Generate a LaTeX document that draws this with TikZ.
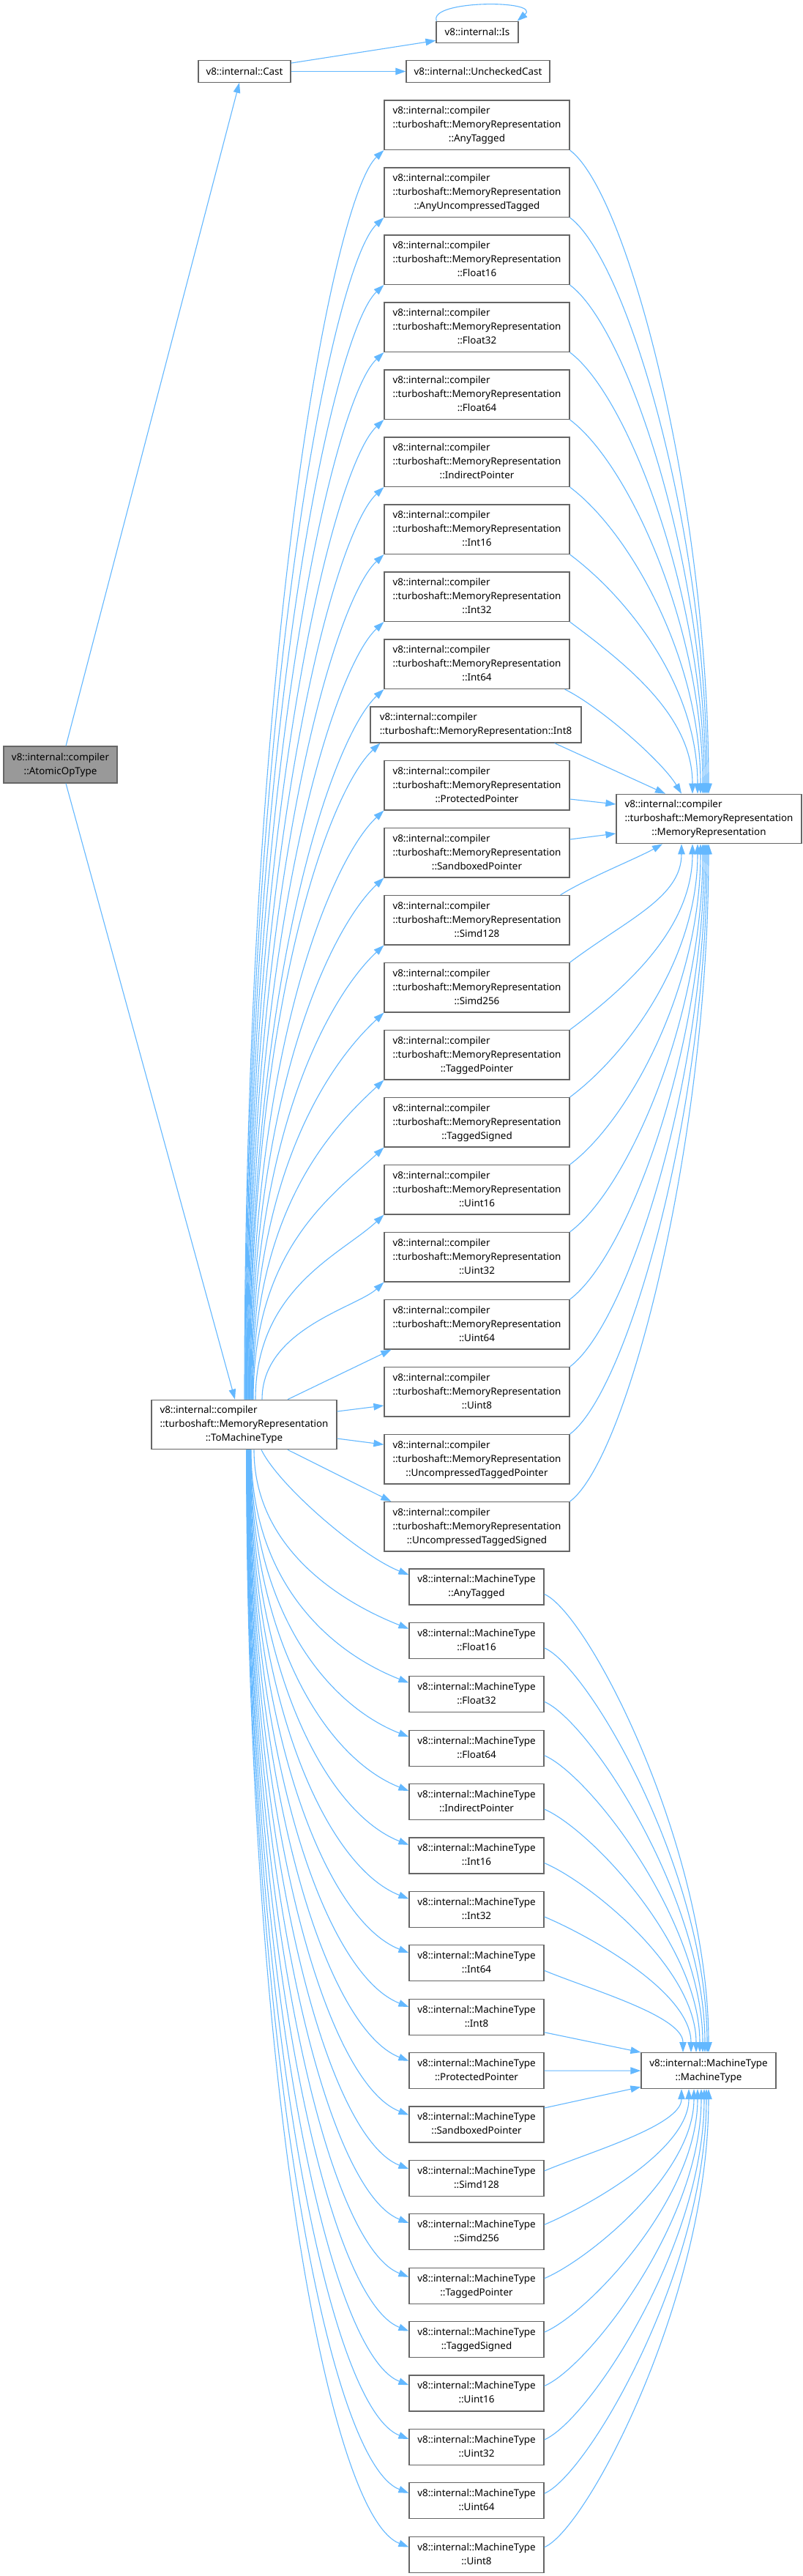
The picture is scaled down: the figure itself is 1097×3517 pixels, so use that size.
\documentclass[tikz,border=0pt]{standalone}
\usepackage{fontspec}
\setmainfont{Noto Sans}
\usetikzlibrary{arrows.meta}
\definecolor{edgec}{HTML}{63B8FF}
\definecolor{borderc}{HTML}{666666}
\definecolor{rootc}{HTML}{999999}
\newcommand\threel[3]{\begin{tabular}{@{}l@{}}#1\\#2\\\multicolumn{1}{@{}c@{}}{#3}\end{tabular}}
\newcommand\twoc[2]{\begin{tabular}{@{}c@{}}#1\\#2\end{tabular}}
\newcommand\twol[2]{\begin{tabular}{@{}l@{}}#1\\#2\end{tabular}}
\begin{document}
\begin{tikzpicture}[x=1pt,y=-1pt,
  box/.style={draw=borderc, line width=1.2pt, fill=white, inner sep=0pt, font=\fontsize{13.4}{19}\selectfont},
  mrbox/.style={box, minimum width=253pt, minimum height=67.5pt},
  mtbox/.style={box, minimum width=184pt, minimum height=49pt},
  edge/.style={draw=edgec, line width=1.1pt, -{Triangle[length=14pt,width=9.5pt]}},
]
\path[use as bounding box, fill=white] (0,0) rectangle (1097,3517);

% ---------- nodes ----------
\node[box, fill=rootc, minimum width=155pt, minimum height=50pt] (root) at (82.5,1044) {\twoc{v8::internal::compiler}{::AtomicOpType}};
\node[box, minimum width=126pt, minimum height=29.5pt] (cast) at (334,97.5) {v8::internal::Cast};
\node[box, minimum width=112pt, minimum height=29.5pt] (is) at (652,44) {v8::internal::Is};
\node[box, minimum width=196pt, minimum height=29.5pt] (ucast) at (653,97.5) {v8::internal::UncheckedCast};
\node[mrbox] (tmt) at (333.5,1945) {\threel{v8::internal::compiler}{::turboshaft::MemoryRepresentation}{::ToMachineType}};
\node[mrbox] (mrT) at (968.5,1118) {\threel{v8::internal::compiler}{::turboshaft::MemoryRepresentation}{::MemoryRepresentation}};
\node[mtbox] (mtT) at (968,2827.1) {\twoc{v8::internal::MachineType}{::MachineType}};

\foreach \n/\lab in {0/AnyTagged,1/AnyUncompressedTagged,2/Float16,3/Float32,4/Float64,5/IndirectPointer,6/Int16,7/Int32,8/Int64,10/ProtectedPointer,11/SandboxedPointer,12/Simd128,13/Simd256,14/TaggedPointer,15/TaggedSigned,16/Uint16,17/Uint32,18/Uint64,19/Uint8,20/UncompressedTaggedPointer,21/UncompressedTaggedSigned}{
  \pgfmathsetmacro\mycy{ifthenelse(\n<10,170.75+92*\n,152.25+92*\n)}
  \node[mrbox] (mr\n) at (651.5,\mycy) {\threel{v8::internal::compiler}{::turboshaft::MemoryRepresentation}{::\lab}};
}
\node[box, minimum width=288pt, minimum height=49pt] (mr9) at (650,989.5) {\twol{v8::internal::compiler}{::turboshaft::MemoryRepresentation::Int8}};

\foreach \m/\lab in {0/AnyTagged,1/Float16,2/Float32,3/Float64,4/IndirectPointer,5/Int16,6/Int32,7/Int64,8/Int8,9/ProtectedPointer,10/SandboxedPointer,11/Simd128,12/Simd256,13/TaggedPointer,14/TaggedSigned,15/Uint16,16/Uint32,17/Uint64,18/Uint8}{
  \pgfmathsetmacro\mycy{2166.5+73.4*\m}
  \node[mtbox] (mt\m) at (651,\mycy) {\twoc{v8::internal::MachineType}{::\lab}};
}

% ---------- edges: top part ----------
\draw[edge] ([xshift=7.5pt]root.north) -- ([xshift=-7pt]cast.south);
\draw[edge] ([xshift=7.5pt]root.south) -- ([xshift=-12.5pt]tmt.north);
\draw[edge] ([yshift=-4pt]cast.north east) -- ([yshift=4pt]is.south west);
\draw[edge] (cast.east) -- (ucast.west);
\draw[edge] ([xshift=1pt]is.north west) .. controls +(-12,-29) and +(34,-29) .. ([xshift=-2pt]is.north east);

% ---------- ToMachineType -> MemoryRepresentation constants (upward) ----------
\foreach \n/\mysx in {0/334,1/334.8,2/335.6,3/336.4,4/337.2,5/338,6/338.8,7/339.6,8/340.4,9/341.2,10/342,11/342.8,12/343.6,13/344.4,14/345.2,15/346,16/349,17/358}{
  \pgfmathsetmacro\myyb{ifthenelse(\n<9,204.5+92*\n,ifthenelse(\n==9,1014,186+92*\n))}
  \pgfmathsetmacro\myexs{ifthenelse(\n==9,14,0)}
  \pgfmathsetmacro\myex{525-ifthenelse(\n==9,5,0)}
  \pgfmathsetmacro\mydd{1911.25-\myyb}
  \pgfmathsetmacro\mykk{min(1,\mydd/300)}
  \pgfmathsetmacro\mycay{1911.25-0.6*\mydd}
  \pgfmathsetmacro\mycbx{\myex-70*\mykk}
  \pgfmathsetmacro\mycby{\myyb+65*\mykk}
  \pgfmathsetmacro\mydx{\mysx-333.5}
  \draw[edge] ([xshift=\mydx pt]tmt.north) .. controls (\mysx,\mycay) and (\mycbx,\mycby) .. ([xshift=\myexs pt]mr\n.south west);
}
\draw[edge] ([xshift=59.5pt]tmt.north) -- ([xshift=10pt]mr18.south west);
\draw[edge] ([yshift=18pt]tmt.east) -- ([yshift=-18.75pt]mr19.west);
\draw[edge] ([yshift=-19pt]tmt.east) -- ([yshift=20pt]mr20.west);
\draw[edge] ([xshift=59.5pt]tmt.south) -- ([xshift=10pt]mr21.north west);

% ---------- ToMachineType -> MachineType constants (downward) ----------
\foreach \m in {0,...,18}{
  \pgfmathsetmacro\mysx{ifthenelse(\m==0,357,ifthenelse(\m==1,347,343-0.4*(\m-2)))}
  \pgfmathsetmacro\myys{16.5-0.35*\m}
  \pgfmathsetmacro\myey{2166.5+73.4*\m-\myys}
  \pgfmathsetmacro\mydd{\myey-1978.75}
  \pgfmathsetmacro\mykk{min(1,\mydd/300)}
  \pgfmathsetmacro\mycax{\mysx+ifthenelse(\m==0,25,0)}
  \pgfmathsetmacro\mycay{1978.75+ifthenelse(\m==0,0.3,0.55)*\mydd}
  \pgfmathsetmacro\mycbx{559-115*\mykk}
  \pgfmathsetmacro\mycby{\myey-45*\mykk}
  \pgfmathsetmacro\mydx{\mysx-333.5}
  \draw[edge] ([xshift=\mydx pt]tmt.south) .. controls (\mycax,\mycay) and (\mycbx,\mycby) .. ([yshift=\myys pt]mt\m.west);
}

% ---------- MemoryRepresentation constants -> MemoryRepresentation ----------
\foreach \n/\eex in {0/968,1/966,2/964,3/962,4/960,5/957,6/953,7/946}{
  \pgfmathsetmacro\myyb{204.5+92*\n}
  \pgfmathsetmacro\mydd{1084.25-\myyb}
  \pgfmathsetmacro\mycay{\myyb+60}
  \pgfmathsetmacro\mycby{1084.25-0.45*\mydd}
  \pgfmathsetmacro\mydx{\eex-968.5}
  \draw[edge] (mr\n.south east) .. controls (858,\mycay) and (\eex,\mycby) .. ([xshift=\mydx pt]mrT.north);
}
\draw[edge] ([xshift=-7pt]mr8.south east) .. controls (820,965) and (905,1040) .. ([xshift=-37.5pt]mrT.north);
\draw[edge] ([xshift=-37pt]mr9.south east) -- ([xshift=-59.5pt]mrT.north);
\draw[edge] ([yshift=-18.75pt]mr10.east) -- ([yshift=20pt]mrT.west);
\draw[edge] ([yshift=18.25pt]mr11.east) -- ([yshift=-20pt]mrT.west);
\draw[edge] ([xshift=-13pt]mr12.north east) .. controls (800,1200) and (870,1172) .. ([xshift=-63.5pt]mrT.south);
\foreach \n/\eex in {13/931,14/946,15/953,16/957,17/960,18/962,19/964,20/966,21/968}{
  \pgfmathsetmacro\myyt{118.5+92*\n}
  \pgfmathsetmacro\mydd{\myyt-1151.75}
  \pgfmathsetmacro\mycay{\myyt-60}
  \pgfmathsetmacro\mycby{1151.75+0.45*\mydd}
  \pgfmathsetmacro\mydx{\eex-968.5}
  \draw[edge] (mr\n.north east) .. controls (858,\mycay) and (\eex,\mycby) .. ([xshift=\mydx pt]mrT.south);
}

% ---------- MachineType constants -> MachineType ----------
\foreach \m/\eex in {0/968,1/966,2/963,3/960,4/956,5/951,6/944,7/933}{
  \pgfmathsetmacro\mysy{2176.5+73.4*\m}
  \pgfmathsetmacro\mydd{2802.5-\mysy}
  \pgfmathsetmacro\mycay{\mysy+25}
  \pgfmathsetmacro\mycby{2802.5-0.45*\mydd}
  \pgfmathsetmacro\mydx{\eex-968}
  \draw[edge] ([yshift=-10pt]mt\m.east) .. controls (803,\mycay) and (\eex,\mycby) .. ([xshift=\mydx pt]mtT.north);
}
\draw[edge] ([yshift=-21pt]mt8.east) -- (mtT.north west);
\draw[edge] (mt9.east) -- (mtT.west);
\draw[edge] ([yshift=22.5pt]mt10.east) -- ([yshift=3pt]mtT.south west);
\foreach \m/\eex in {11/931,12/941,13/948,14/953,15/958,16/962,17/965,18/968}{
  \pgfmathsetmacro\mysy{2156.5+73.4*\m}
  \pgfmathsetmacro\mydd{\mysy-2851.5}
  \pgfmathsetmacro\mycay{\mysy-25}
  \pgfmathsetmacro\mycby{2851.5+0.45*\mydd}
  \pgfmathsetmacro\mydx{\eex-968}
  \draw[edge] ([yshift=10pt]mt\m.east) .. controls (803,\mycay) and (\eex,\mycby) .. ([xshift=\mydx pt]mtT.south);
}
\end{tikzpicture}
\end{document}
